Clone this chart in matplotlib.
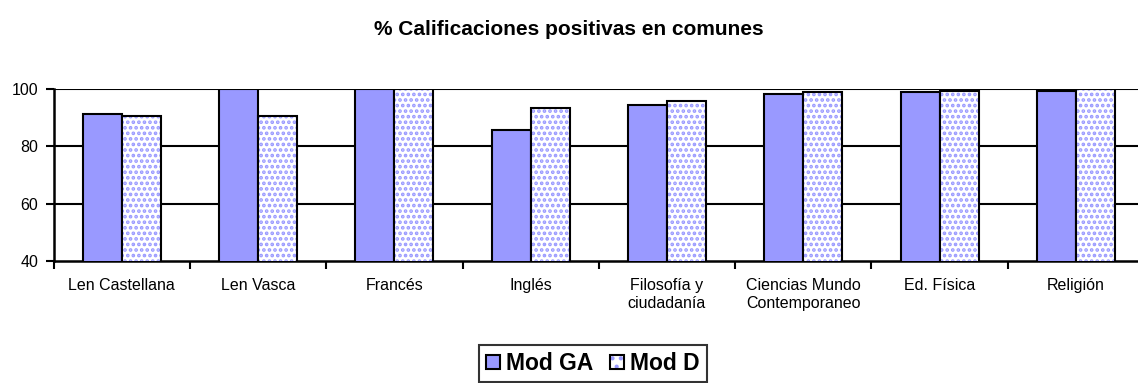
import numpy as np
import matplotlib
matplotlib.use('Agg')
import matplotlib.pyplot as plt
from matplotlib.patches import Patch

plt.rcParams['font.family'] = ['Liberation Sans', 'DejaVu Sans']
plt.rcParams['hatch.linewidth'] = 1.8

# asignaturas comunes y % de calificaciones positivas por modelo
asignaturas = ['Len Castellana', 'Len Vasca', 'Francés', 'Inglés',
               'Filosofía y\nciudadanía', 'Ciencias Mundo\nContemporaneo',
               'Ed. Física', 'Religión']
mod_ga = [91.2, 100, 100, 85.7, 94.4, 98.4, 99.1, 99.4]
mod_d = [90.6, 90.5, 100, 93.3, 95.9, 98.8, 99.3, 100]

W, H = 1138, 383
fig = plt.figure(figsize=(W / 100, H / 100), dpi=100)
ax = fig.add_axes([53.7 / W, 1 - 261 / H, (1144 - 53.7) / W, (261 - 89) / H])

x = np.arange(len(asignaturas))
bw = 0.286
lila = '#9999ff'

# fondo de rejilla
for v in [60, 80, 100]:
    ax.axhline(v, color='black', lw=1.5, zorder=1)

ax.bar(x - bw / 2, mod_ga, bw, color=lila, edgecolor='black',
       lw=1.5, zorder=3)
# barras punteadas: primero el relleno con trama, luego el borde negro
ax.bar(x + bw / 2, mod_d, bw, color='white', edgecolor=lila, hatch='...',
       lw=0, zorder=3)
ax.bar(x + bw / 2, mod_d, bw, fill=False, edgecolor='black', lw=1.5, zorder=4)

ax.set_ylim(40, 100)
ax.set_xlim(-0.5, len(asignaturas) - 0.5)
ax.set_yticks([40, 60, 80, 100])
ax.set_xticks(x)
ax.set_xticklabels(asignaturas, fontsize=11.5, linespacing=1.3)
ax.set_xticks(np.arange(-0.5, len(asignaturas) - 0.5, 1), minor=True)
ax.tick_params(axis='x', which='major', length=0, pad=12)
ax.tick_params(axis='x', which='minor', length=6, width=1.5, direction='out')
ax.tick_params(axis='y', length=6, width=1.5, direction='out', labelsize=11.5, pad=5)

for s in ['top', 'right']:
    ax.spines[s].set_visible(False)
for s in ['left', 'bottom']:
    ax.spines[s].set_linewidth(1.8)
ax.patch.set_visible(False)

fig.text(0.5, 1 - 35 / H, '% Calificaciones positivas en comunes',
         ha='center', va='baseline', fontsize=15, fontweight='bold')

h_ga = Patch(facecolor=lila, edgecolor='black', lw=1.5)
h_d = (Patch(facecolor='white', edgecolor=lila, hatch='..', lw=0),
       Patch(fill=False, edgecolor='black', lw=1.5))
leg = fig.legend([h_ga, h_d], ['Mod GA', 'Mod D'], loc='upper left',
                 bbox_to_anchor=(479 / W, 1 - 345 / H), ncol=2,
                 prop={'size': 16.5, 'weight': 'bold'},
                 handlelength=0.6, handleheight=0.6, handletextpad=0.3,
                 columnspacing=0.7, borderpad=0.3, borderaxespad=0,
                 fancybox=False, frameon=True)
leg.get_frame().set_edgecolor('black')
leg.get_frame().set_linewidth(1.5)

fig.savefig('out.png', dpi=100)
